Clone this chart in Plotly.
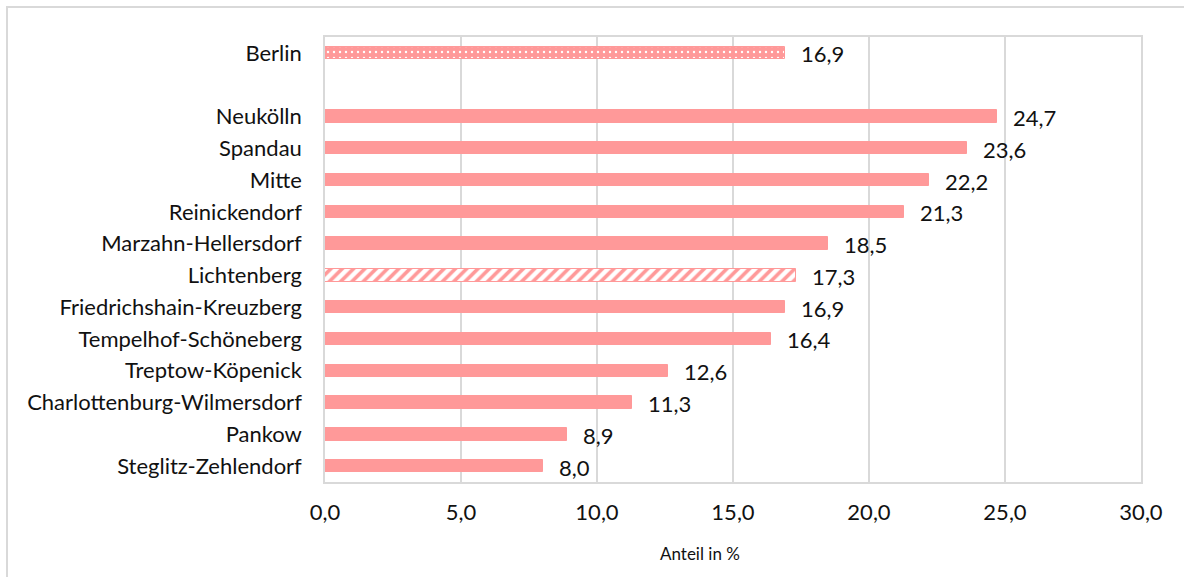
import plotly.graph_objects as go

# Anteil je Bezirk (in %), Berlin gesamt oben, dazwischen eine Leerzeile
categories = [
    "Berlin", "",
    "Neukölln", "Spandau", "Mitte", "Reinickendorf", "Marzahn-Hellersdorf",
    "Lichtenberg", "Friedrichshain-Kreuzberg", "Tempelhof-Schöneberg",
    "Treptow-Köpenick", "Charlottenburg-Wilmersdorf", "Pankow", "Steglitz-Zehlendorf",
]
values = [16.9, None, 24.7, 23.6, 22.2, 21.3, 18.5, 17.3, 16.9, 16.4, 12.6, 11.3, 8.9, 8.0]
x_ticks = [0, 5, 10, 15, 20, 25, 30]

PINK = "#ff9999"
FONT = "Lato"
TXT = "#111111"

positions = list(range(len(categories)))

shapes_ = []
fgs = []
bgs = []
for name in categories:
    if name == "Berlin":
        shapes_.append("."); fgs.append("white"); bgs.append(PINK)
    elif name == "Lichtenberg":
        shapes_.append("/"); fgs.append(PINK); bgs.append("white")
    else:
        shapes_.append(""); fgs.append(PINK); bgs.append(PINK)

fig = go.Figure()
fig.add_trace(go.Bar(
    y=positions,
    x=values,
    orientation="h",
    width=0.39,
    marker=dict(
        color=PINK,
        line=dict(color=PINK, width=1),
        pattern=dict(shape=shapes_, fgcolor=fgs, bgcolor=bgs,
                     size=[6 if s == "." else 8 for s in shapes_],
                     solidity=[0.12 if s == "." else 0.45 for s in shapes_],
                     fillmode="replace"),
    ),
    hoverinfo="skip",
    showlegend=False,
))

# Wertebeschriftungen rechts neben den Balken
annotations = []
for p, v in zip(positions, values):
    if v is None:
        continue
    annotations.append(dict(
        x=v, y=p, xref="x", yref="y",
        text=f"{v:.1f}".replace(".", ","),
        showarrow=False, xanchor="left", yanchor="middle",
        xshift=14, yshift=-1,
        font=dict(family=FONT, size=22, color=TXT),
    ))

annotations.append(dict(
    x=(700 - 325) / 816, y=(482 - 553) / 445, xref="paper", yref="paper",
    text="Anteil in %", showarrow=False, xanchor="center", yanchor="middle",
    font=dict(family=FONT, size=17, color=TXT),
))

GRID = "#d9d9d9"

fig.update_layout(
    width=1184, height=577,
    margin=dict(l=325, r=43, t=37, b=95),
    paper_bgcolor="white", plot_bgcolor="white",
    separators=",.",
    bargap=0,
    annotations=annotations,
    shapes=[
        # Rahmen des Diagrammbereichs (oben und links sichtbar)
        dict(type="rect", xref="paper", yref="paper",
             x0=(7 - 325) / 816, x1=(1200 - 325) / 816,
             y0=(482 - 600) / 445, y1=(482 - 7) / 445,
             line=dict(color=GRID, width=2), fillcolor="rgba(0,0,0,0)", layer="below"),
    ],
    xaxis=dict(
        range=[0, 30], tickvals=x_ticks, tickformat=".1f",
        showgrid=True, gridcolor=GRID, gridwidth=1.5,
        zeroline=False, showline=True, linecolor=GRID, linewidth=1.5, mirror=True,
        ticks="", ticklabelstandoff=10,
        tickfont=dict(family=FONT, size=22, color=TXT),
        fixedrange=True,
    ),
    yaxis=dict(
        range=[len(categories) - 0.5, -0.5],
        tickvals=positions, ticktext=categories,
        showgrid=False, zeroline=False,
        showline=True, linecolor=GRID, linewidth=1.5, mirror=True,
        ticks="", ticklabelstandoff=17,
        tickfont=dict(family=FONT, size=22, color=TXT),
        fixedrange=True,
    ),
)

fig.write_html("out.html")
